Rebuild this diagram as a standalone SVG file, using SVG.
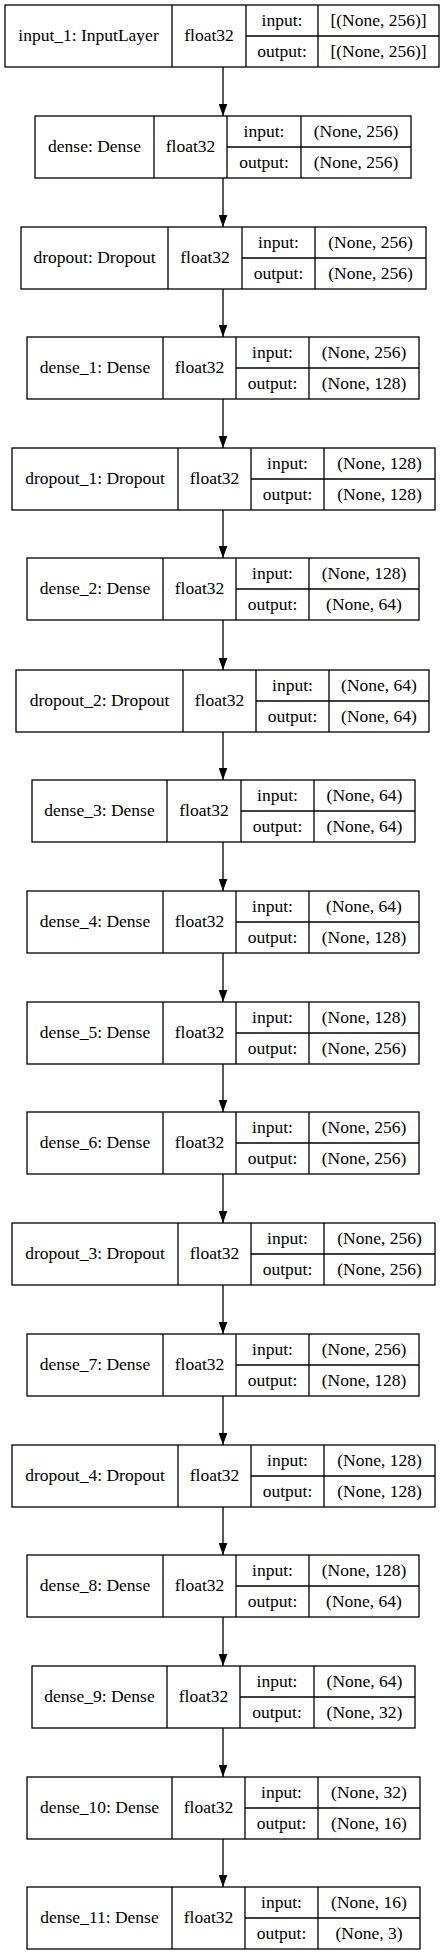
<svg xmlns="http://www.w3.org/2000/svg" width="447" height="1955" viewBox="0 0 447 1955">
<defs>
<style>
.node rect{fill:#fff;stroke:#000;stroke-width:1.3}
.node path{fill:none;stroke:#000;stroke-width:1.3}
.node text{font-family:"Liberation Serif","Times New Roman",serif;font-size:17.5px;fill:#000;text-anchor:middle}
.edge{fill:none;stroke:#000;stroke-width:1.3}
</style>
<marker id="ah" viewBox="0 0 12.5 9" refX="12.5" refY="4.5" markerWidth="12.5" markerHeight="9" orient="auto" markerUnits="userSpaceOnUse">
<path d="M0,0 L12.5,4.5 L0,9 z" fill="#000"/>
</marker>
</defs>
<rect width="447" height="1955" fill="#fff"/>
<g id="connectors">
<path class="edge" marker-end="url(#ah)" d="M223 67 V116"/>
<path class="edge" marker-end="url(#ah)" d="M223 178 V227"/>
<path class="edge" marker-end="url(#ah)" d="M223 289 V337"/>
<path class="edge" marker-end="url(#ah)" d="M223 399 V448"/>
<path class="edge" marker-end="url(#ah)" d="M223 510 V558"/>
<path class="edge" marker-end="url(#ah)" d="M223 620 V670"/>
<path class="edge" marker-end="url(#ah)" d="M223 732 V780"/>
<path class="edge" marker-end="url(#ah)" d="M223 842 V891"/>
<path class="edge" marker-end="url(#ah)" d="M223 953 V1002"/>
<path class="edge" marker-end="url(#ah)" d="M223 1064 V1112"/>
<path class="edge" marker-end="url(#ah)" d="M223 1174 V1223"/>
<path class="edge" marker-end="url(#ah)" d="M223 1285 V1334"/>
<path class="edge" marker-end="url(#ah)" d="M223 1396 V1445"/>
<path class="edge" marker-end="url(#ah)" d="M223 1507 V1555"/>
<path class="edge" marker-end="url(#ah)" d="M223 1617 V1666"/>
<path class="edge" marker-end="url(#ah)" d="M223 1728 V1777"/>
<path class="edge" marker-end="url(#ah)" d="M223 1839 V1887"/>
</g>

<g id="input_1" class="node" transform="translate(0,5)">
<rect x="5" y="0" width="434" height="62"/>
<path d="M172 0 V62 M246 0 V62 M318 0 V62 M246 31 H439"/>
<text x="88.5" y="36">input_1: InputLayer</text>
<text x="209" y="36">float32</text>
<text x="282" y="21">input:</text>
<text x="378.5" y="21">[(None, 256)]</text>
<text x="282" y="52">output:</text>
<text x="378.5" y="52">[(None, 256)]</text>
</g>

<g id="dense" class="node" transform="translate(0,116)">
<rect x="35" y="0" width="376" height="62"/>
<path d="M154 0 V62 M227 0 V62 M301 0 V62 M227 31 H411"/>
<text x="94.5" y="36">dense: Dense</text>
<text x="190.5" y="36">float32</text>
<text x="264" y="21">input:</text>
<text x="356" y="21">(None, 256)</text>
<text x="264" y="52">output:</text>
<text x="356" y="52">(None, 256)</text>
</g>

<g id="dropout" class="node" transform="translate(0,227)">
<rect x="21" y="0" width="405" height="62"/>
<path d="M168 0 V62 M242 0 V62 M315 0 V62 M242 31 H426"/>
<text x="94.5" y="36">dropout: Dropout</text>
<text x="205" y="36">float32</text>
<text x="278.5" y="21">input:</text>
<text x="370.5" y="21">(None, 256)</text>
<text x="278.5" y="52">output:</text>
<text x="370.5" y="52">(None, 256)</text>
</g>

<g id="dense_1" class="node" transform="translate(0,337)">
<rect x="27" y="0" width="392" height="62"/>
<path d="M163 0 V62 M236 0 V62 M309 0 V62 M236 31 H419"/>
<text x="95" y="36">dense_1: Dense</text>
<text x="199.5" y="36">float32</text>
<text x="272.5" y="21">input:</text>
<text x="364" y="21">(None, 256)</text>
<text x="272.5" y="52">output:</text>
<text x="364" y="52">(None, 128)</text>
</g>

<g id="dropout_1" class="node" transform="translate(0,448)">
<rect x="12" y="0" width="423" height="62"/>
<path d="M178 0 V62 M251 0 V62 M324 0 V62 M251 31 H435"/>
<text x="95" y="36">dropout_1: Dropout</text>
<text x="214.5" y="36">float32</text>
<text x="287.5" y="21">input:</text>
<text x="379.5" y="21">(None, 128)</text>
<text x="287.5" y="52">output:</text>
<text x="379.5" y="52">(None, 128)</text>
</g>

<g id="dense_2" class="node" transform="translate(0,558)">
<rect x="27" y="0" width="392" height="62"/>
<path d="M163 0 V62 M236 0 V62 M309 0 V62 M236 31 H419"/>
<text x="95" y="36">dense_2: Dense</text>
<text x="199.5" y="36">float32</text>
<text x="272.5" y="21">input:</text>
<text x="364" y="21">(None, 128)</text>
<text x="272.5" y="52">output:</text>
<text x="364" y="52">(None, 64)</text>
</g>

<g id="dropout_2" class="node" transform="translate(0,670)">
<rect x="16" y="0" width="413" height="62"/>
<path d="M183 0 V62 M256 0 V62 M329 0 V62 M256 31 H429"/>
<text x="99.5" y="36">dropout_2: Dropout</text>
<text x="219.5" y="36">float32</text>
<text x="292.5" y="21">input:</text>
<text x="379" y="21">(None, 64)</text>
<text x="292.5" y="52">output:</text>
<text x="379" y="52">(None, 64)</text>
</g>

<g id="dense_3" class="node" transform="translate(0,780)">
<rect x="32" y="0" width="383" height="62"/>
<path d="M167 0 V62 M241 0 V62 M314 0 V62 M241 31 H415"/>
<text x="99.5" y="36">dense_3: Dense</text>
<text x="204" y="36">float32</text>
<text x="277.5" y="21">input:</text>
<text x="364.5" y="21">(None, 64)</text>
<text x="277.5" y="52">output:</text>
<text x="364.5" y="52">(None, 64)</text>
</g>

<g id="dense_4" class="node" transform="translate(0,891)">
<rect x="27" y="0" width="392" height="62"/>
<path d="M163 0 V62 M236 0 V62 M309 0 V62 M236 31 H419"/>
<text x="95" y="36">dense_4: Dense</text>
<text x="199.5" y="36">float32</text>
<text x="272.5" y="21">input:</text>
<text x="364" y="21">(None, 64)</text>
<text x="272.5" y="52">output:</text>
<text x="364" y="52">(None, 128)</text>
</g>

<g id="dense_5" class="node" transform="translate(0,1002)">
<rect x="27" y="0" width="392" height="62"/>
<path d="M163 0 V62 M236 0 V62 M309 0 V62 M236 31 H419"/>
<text x="95" y="36">dense_5: Dense</text>
<text x="199.5" y="36">float32</text>
<text x="272.5" y="21">input:</text>
<text x="364" y="21">(None, 128)</text>
<text x="272.5" y="52">output:</text>
<text x="364" y="52">(None, 256)</text>
</g>

<g id="dense_6" class="node" transform="translate(0,1112)">
<rect x="27" y="0" width="392" height="62"/>
<path d="M163 0 V62 M236 0 V62 M309 0 V62 M236 31 H419"/>
<text x="95" y="36">dense_6: Dense</text>
<text x="199.5" y="36">float32</text>
<text x="272.5" y="21">input:</text>
<text x="364" y="21">(None, 256)</text>
<text x="272.5" y="52">output:</text>
<text x="364" y="52">(None, 256)</text>
</g>

<g id="dropout_3" class="node" transform="translate(0,1223)">
<rect x="12" y="0" width="423" height="62"/>
<path d="M178 0 V62 M251 0 V62 M324 0 V62 M251 31 H435"/>
<text x="95" y="36">dropout_3: Dropout</text>
<text x="214.5" y="36">float32</text>
<text x="287.5" y="21">input:</text>
<text x="379.5" y="21">(None, 256)</text>
<text x="287.5" y="52">output:</text>
<text x="379.5" y="52">(None, 256)</text>
</g>

<g id="dense_7" class="node" transform="translate(0,1334)">
<rect x="27" y="0" width="392" height="62"/>
<path d="M163 0 V62 M236 0 V62 M309 0 V62 M236 31 H419"/>
<text x="95" y="36">dense_7: Dense</text>
<text x="199.5" y="36">float32</text>
<text x="272.5" y="21">input:</text>
<text x="364" y="21">(None, 256)</text>
<text x="272.5" y="52">output:</text>
<text x="364" y="52">(None, 128)</text>
</g>

<g id="dropout_4" class="node" transform="translate(0,1445)">
<rect x="12" y="0" width="423" height="62"/>
<path d="M178 0 V62 M251 0 V62 M324 0 V62 M251 31 H435"/>
<text x="95" y="36">dropout_4: Dropout</text>
<text x="214.5" y="36">float32</text>
<text x="287.5" y="21">input:</text>
<text x="379.5" y="21">(None, 128)</text>
<text x="287.5" y="52">output:</text>
<text x="379.5" y="52">(None, 128)</text>
</g>

<g id="dense_8" class="node" transform="translate(0,1555)">
<rect x="27" y="0" width="392" height="62"/>
<path d="M163 0 V62 M236 0 V62 M309 0 V62 M236 31 H419"/>
<text x="95" y="36">dense_8: Dense</text>
<text x="199.5" y="36">float32</text>
<text x="272.5" y="21">input:</text>
<text x="364" y="21">(None, 128)</text>
<text x="272.5" y="52">output:</text>
<text x="364" y="52">(None, 64)</text>
</g>

<g id="dense_9" class="node" transform="translate(0,1666)">
<rect x="32" y="0" width="383" height="62"/>
<path d="M167 0 V62 M240 0 V62 M314 0 V62 M240 31 H415"/>
<text x="99.5" y="36">dense_9: Dense</text>
<text x="203.5" y="36">float32</text>
<text x="277" y="21">input:</text>
<text x="364.5" y="21">(None, 64)</text>
<text x="277" y="52">output:</text>
<text x="364.5" y="52">(None, 32)</text>
</g>

<g id="dense_10" class="node" transform="translate(0,1777)">
<rect x="27" y="0" width="393" height="62"/>
<path d="M172 0 V62 M245 0 V62 M318 0 V62 M245 31 H420"/>
<text x="99.5" y="36">dense_10: Dense</text>
<text x="208.5" y="36">float32</text>
<text x="281.5" y="21">input:</text>
<text x="369" y="21">(None, 32)</text>
<text x="281.5" y="52">output:</text>
<text x="369" y="52">(None, 16)</text>
</g>

<g id="dense_11" class="node" transform="translate(0,1887)">
<rect x="27" y="0" width="393" height="62"/>
<path d="M172 0 V62 M245 0 V62 M318 0 V62 M245 31 H420"/>
<text x="99.5" y="36">dense_11: Dense</text>
<text x="208.5" y="36">float32</text>
<text x="281.5" y="21">input:</text>
<text x="369" y="21">(None, 16)</text>
<text x="281.5" y="52">output:</text>
<text x="369" y="52">(None, 3)</text>
</g>
</svg>
